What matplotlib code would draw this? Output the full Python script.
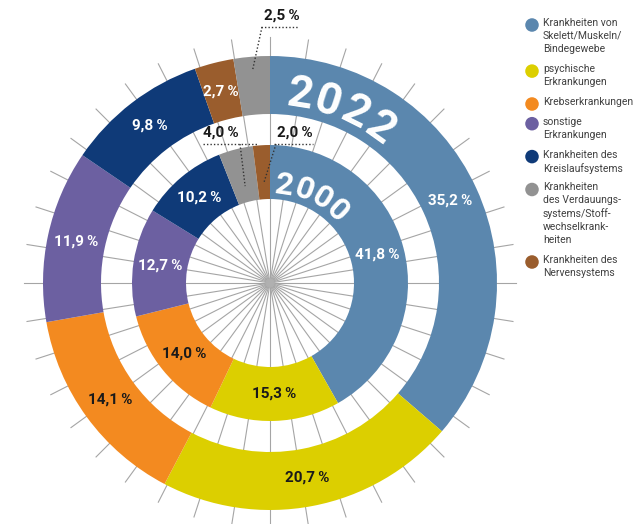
import numpy as np
import matplotlib.pyplot as plt

plt.rcParams['font.family'] = ['Roboto', 'DejaVu Sans']

# Kategorien (Reihenfolge wie Legende)
categories = [
    'Krankheiten von\nSkelett/Muskeln/\nBindegewebe',
    'psychische\nErkrankungen',
    'Krebserkrankungen',
    'sonstige\nErkrankungen',
    'Krankheiten des\nKreislaufsystems',
    'Krankheiten\ndes Verdauungs-\nsystems/Stoff-\nwechselkrank-\nheiten',
    'Krankheiten des\nNervensystems',
]
colors = ['#5b87ae', '#dccf00', '#f38a20', '#6c60a1', '#0f3a78', '#929292', '#9a5d2d']
label_colors = ['white', '#1a1a1a', '#1a1a1a', 'white', 'white', 'white', 'white']

# Anteile in Prozent, Reihenfolge im Uhrzeigersinn ab 12 Uhr
order_2000 = [0, 1, 2, 3, 4, 5, 6]
share_2000 = [41.8, 15.3, 14.0, 12.7, 10.2, 4.0, 2.0]
order_2022 = [0, 1, 2, 3, 4, 6, 5]
share_2022 = [35.2, 20.7, 14.1, 11.9, 9.8, 2.7, 2.5]

# Ringe (in Pixeln, Mittelpunkt bei 270/283)
cx, cy = 270, 283
r_out, w_out = 227, 58
r_in, w_in = 138, 54
n_spokes = 40
r_spoke = 246

fig = plt.figure(figsize=(6.43, 5.24), dpi=100)
ax = fig.add_axes([0, 0, 1, 1])


def px(x, y):
    # Pixelposition -> Datenkoordinaten
    return x - cx, cy - y


def fmt(v):
    return f'{v:.1f}'.replace('.', ',') + '\u2009%'


# Speichen im Hintergrund
for a in np.linspace(0, 2 * np.pi, n_spokes, endpoint=False):
    ax.plot([0, r_spoke * np.cos(a)], [0, r_spoke * np.sin(a)],
            color='#a5a5a5', lw=0.8, zorder=1)
ax.add_patch(plt.Circle((0, 0), 4, color='#b0b0b0', zorder=1))

w22, _ = ax.pie(share_2022, colors=[colors[i] for i in order_2022], radius=r_out,
                startangle=90, counterclock=False, center=(0, 0),
                wedgeprops=dict(width=w_out, edgecolor='none', zorder=2))
w00, _ = ax.pie(share_2000, colors=[colors[i] for i in order_2000], radius=r_in,
                startangle=90, counterclock=False, center=(0, 0),
                wedgeprops=dict(width=w_in, edgecolor='none', zorder=2))

lab_font = dict(fontsize=11, fontweight='bold', ha='center', va='center', zorder=5)


def mid(w):
    return np.deg2rad((w.theta1 + w.theta2) / 2)


# Beschriftungen innerhalb der Ringe
for w, v, ci in zip(w22, share_2022, order_2022):
    if v < 2.6:
        continue
    a = mid(w)
    r = r_out - w_out / 2
    ax.text(r * np.cos(a), r * np.sin(a), fmt(v), color=label_colors[ci], **lab_font)
for w, v, ci in zip(w00, share_2000, order_2000):
    if v < 5:
        continue
    a = mid(w)
    r = r_in - w_in / 2
    ax.text(r * np.cos(a), r * np.sin(a), fmt(v), color=label_colors[ci], **lab_font)


# Kleine Segmente mit gepunkteter Fuehrungslinie
def callout(w, r, v, text_xy, ul_x, anchor_x):
    a = mid(w)
    sx, sy = r * np.cos(a), r * np.sin(a)
    tx, ty = px(*text_xy)
    ul0, _ = px(ul_x[0], 0)
    ul1, _ = px(ul_x[1], 0)
    ax_, _ = px(anchor_x, 0)
    ly = ty - 11
    ax.plot([ul0, ul1], [ly, ly], ls=(0, (1, 1.5)), color='#333333', lw=1, zorder=6)
    ax.plot([ax_, sx], [ly, sy], ls=(0, (1, 1.5)), color='#333333', lw=1, zorder=6)
    ax.text(tx, ty, fmt(v), color='#1a1a1a', **lab_font)


callout(w22[6], 214, share_2022[6], (282, 16), (261, 298), 262)
callout(w00[5], 100, share_2000[5], (221, 133), (203, 257), 240)
callout(w00[6], 100, share_2000[6], (295, 133), (274, 313), 276)


# Jahreszahlen entlang der Ringe
def arc_text(s, r, a0, step, size):
    for i, ch in enumerate(s):
        a = np.deg2rad(a0 + step * i)
        ax.text(r * np.sin(a), r * np.cos(a), ch, color='white', fontsize=size,
                fontweight='bold', ha='center', va='center', rotation=-(a0 + step * i),
                rotation_mode='anchor', zorder=4)


arc_text('2022', 190, 9, 8.8, 32)
arc_text('2000', 99, 8.5, 11.5, 23)

# Legende
ly = 25
for name, c in zip(categories, colors):
    x0, y0 = px(532, ly)
    ax.scatter([x0], [y0], s=95, color=c, edgecolors='none', zorder=5)
    tx, ty = px(543, ly - 7)
    ax.text(tx, ty, name, fontsize=7.5, color='#404040', ha='left', va='top',
            linespacing=1.35)
    ly += name.count('\n') * 13.2 + 13.2 + 6.5

ax.set_xlim(-cx, 643 - cx)
ax.set_ylim(cy - 524, cy)
ax.set_aspect('equal')
ax.axis('off')

fig.savefig('out.png', dpi=100)
